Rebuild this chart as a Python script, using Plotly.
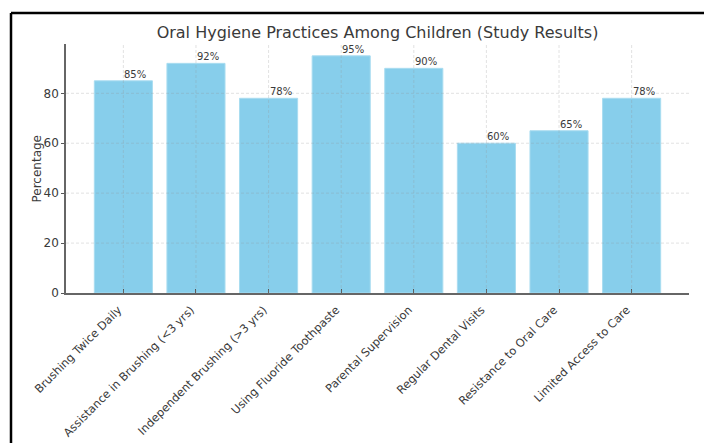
import plotly.graph_objects as go

categories = [
    "Brushing Twice Daily",
    "Assistance in Brushing (<3 yrs)",
    "Independent Brushing (>3 yrs)",
    "Using Fluoride Toothpaste",
    "Parental Supervision",
    "Regular Dental Visits",
    "Resistance to Oral Care",
    "Limited Access to Care",
]
values = [85, 92, 78, 95, 90, 60, 65, 78]
labels = [f"{v}%" for v in values]
y_ticks = [0, 20, 40, 60, 80]

W, H = 704, 443
L, R, T, B = 66, 15, 44, 150
pw, ph = W - L - R, H - T - B

font = "DejaVu Sans"
txt = "#3a3a3a"
grid = dict(color="rgba(150,150,150,0.35)", width=0.8, dash="3px,2px")

xs = list(range(len(categories)))

fig = go.Figure(
    go.Bar(
        x=xs,
        y=values,
        width=0.8,
        marker=dict(color="#87CEEB", line=dict(color="#a9dcf0", width=1)),
        hoverinfo="skip",
    )
)

for x, v, lab in zip(xs, values, labels):
    fig.add_annotation(
        x=x, y=v, text=lab, showarrow=False,
        xanchor="left", yanchor="bottom", xshift=-1, yshift=-1,
        font=dict(family=font, size=10, color=txt),
    )

# gridlines drawn above the bars (matplotlib style)
for x in xs:
    fig.add_shape(type="line", xref="x", yref="paper", x0=x, x1=x, y0=0, y1=1,
                  line=grid, layer="above")
for yv in y_ticks[1:]:
    fig.add_shape(type="line", xref="paper", yref="y", x0=0, x1=1, y0=yv, y1=yv,
                  line=grid, layer="above")

# y-axis title
fig.add_annotation(
    xref="paper", yref="paper", x=(36 - L) / pw, y=0.5,
    text="Percentage", textangle=-90, showarrow=False,
    xanchor="center", yanchor="middle",
    font=dict(family=font, size=12, color=txt),
)

fig.update_layout(
    width=W,
    height=H,
    margin=dict(l=L, r=R, t=T, b=B, pad=0),
    paper_bgcolor="white",
    plot_bgcolor="white",
    showlegend=False,
    font=dict(family=font, color=txt),
    title=dict(
        text="Oral Hygiene Practices Among Children (Study Results)",
        x=(L + pw / 2) / W,
        xanchor="center",
        y=1 - 32 / H,
        yanchor="middle",
        font=dict(family=font, size=16, color=txt),
    ),
)

fig.update_xaxes(
    range=[-0.79, len(categories) - 1 + 0.79],
    tickmode="array",
    tickvals=xs,
    ticktext=categories,
    tickangle=-45,
    tickfont=dict(family=font, size=11.4, color=txt),
    showline=True,
    linecolor="#666666",
    linewidth=1.5,
    ticks="inside",
    ticklen=4,
    tickcolor="#555555",
    ticklabelstandoff=4,
    ticklabelshift=-5,
    showgrid=False,
    zeroline=False,
    automargin=False,
    layer="above traces",
)

fig.update_yaxes(
    range=[0, 99.75],
    tickmode="array",
    tickvals=y_ticks,
    tickfont=dict(family=font, size=12, color=txt),
    showline=True,
    linecolor="#666666",
    linewidth=1.5,
    ticks="outside",
    ticklen=3,
    tickcolor="#555555",
    showgrid=False,
    zeroline=False,
    automargin=False,
    layer="above traces",
)

# black frame (top and left edges of the screenshot border)
x_left = (11 - L) / pw
y_top = (H - B - 13) / ph
fig.add_shape(type="line", xref="paper", yref="paper",
              x0=x_left, x1=(W + 5 - L) / pw, y0=y_top, y1=y_top,
              line=dict(color="black", width=2.5))
fig.add_shape(type="line", xref="paper", yref="paper",
              x0=x_left, x1=x_left, y0=y_top, y1=-(B + 5) / ph,
              line=dict(color="black", width=2.5))

fig.write_html("out.html")
